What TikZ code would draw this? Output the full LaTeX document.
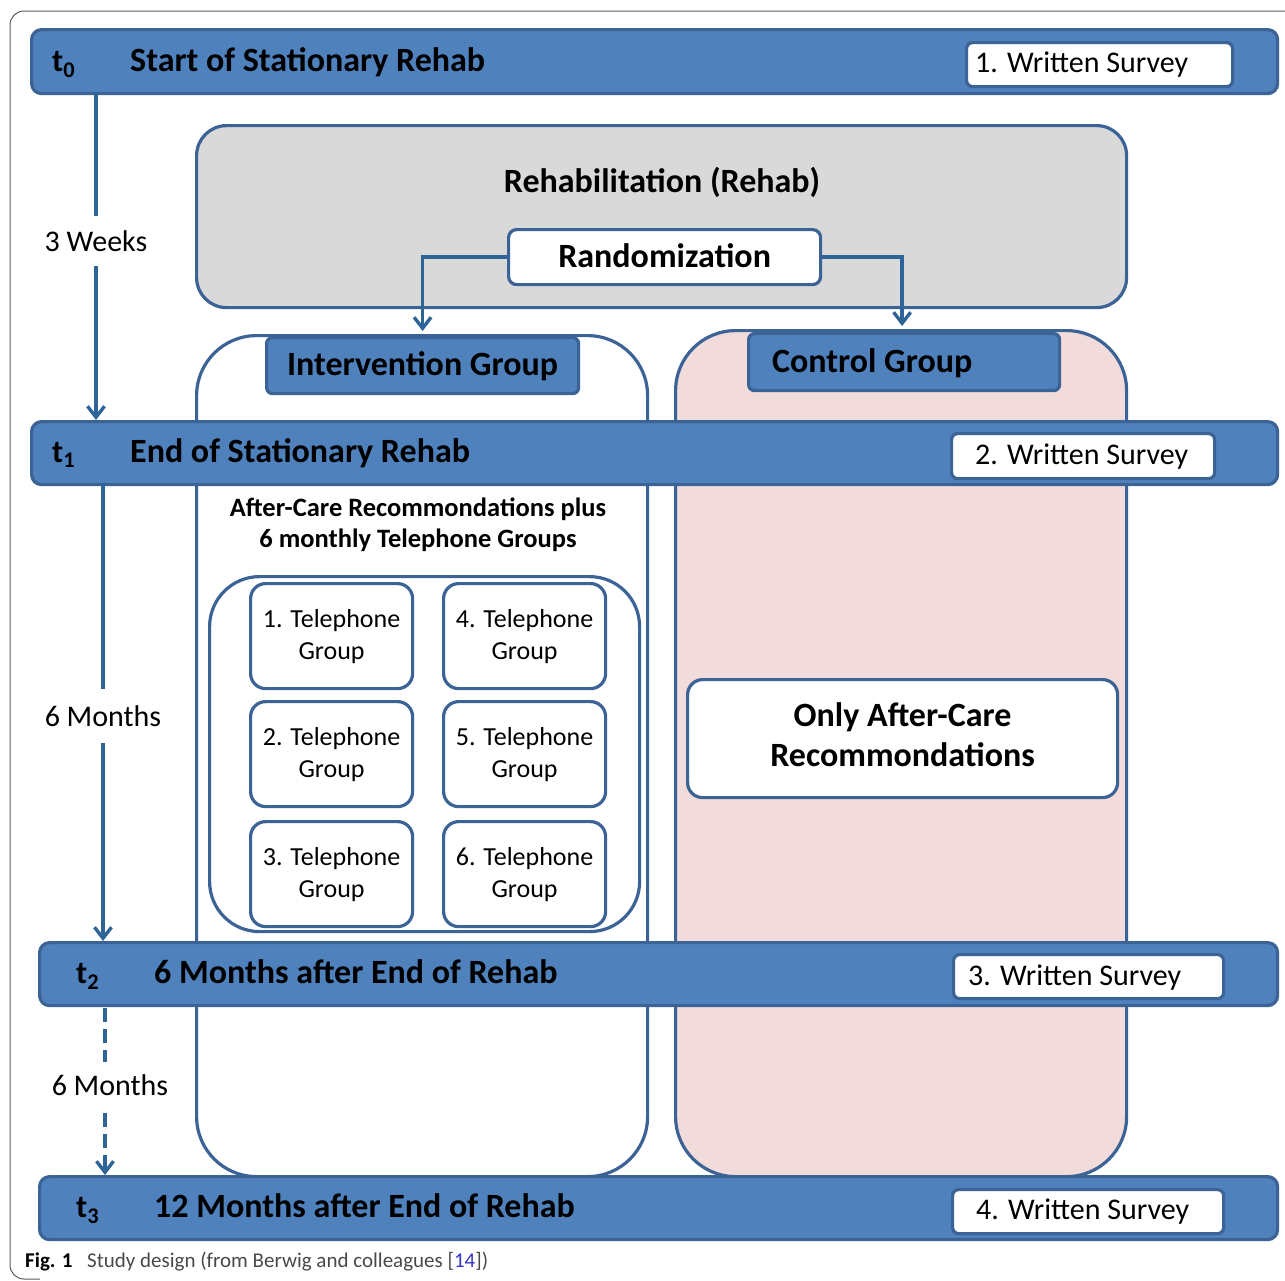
\documentclass[tikz,border=0pt]{standalone}
\usepackage{fontspec}
\setmainfont{Carlito}
\usetikzlibrary{arrows.meta}
\definecolor{barblue}{HTML}{4F81BD}
\definecolor{edgeblue}{HTML}{3B6396}
\definecolor{arrblue}{HTML}{2F6496}
\definecolor{rehabgray}{HTML}{D9D9D9}
\definecolor{ctrlpink}{HTML}{F2DCDB}
\definecolor{framegray}{HTML}{5A5A5A}
\definecolor{refblue}{HTML}{3333CC}
\tikzset{
  bar/.style={draw=edgeblue, line width=3.2pt, fill=barblue, rounded corners=10pt, anchor=north west, inner sep=0pt},
  survey/.style={draw=edgeblue, line width=3.2pt, fill=white, rounded corners=6pt, anchor=north west, inner sep=0pt},
  whitebox/.style={draw=edgeblue, line width=3.2pt, fill=white, anchor=north west, inner sep=0pt},
  column/.style={draw=edgeblue, line width=3.2pt, rounded corners=60pt, anchor=north west, inner sep=0pt},
  grouplabel/.style={draw=edgeblue, line width=3.2pt, fill=barblue, rounded corners=6pt, anchor=north west, inner sep=0pt},
  telbox/.style={draw=edgeblue, line width=3.2pt, fill=white, rounded corners=15pt, anchor=north west, inner sep=0pt, minimum width=162pt, minimum height=105pt, align=center, font=\fontsize{26}{32}\selectfont},
  bartitle/.style={anchor=base west, inner sep=0pt, font=\fontsize{34}{40}\selectfont\bfseries},
  tlabel/.style={anchor=base west, inner sep=0pt, font=\fontsize{32}{38}\selectfont\bfseries},
  surveytext/.style={anchor=base west, inner sep=0pt, font=\fontsize{30}{34}\selectfont},
  arr/.style={draw=arrblue, line width=3.4pt, -{Straight Barb[length=11pt,width=17pt,line width=3.4pt]}},
  timelabel/.style={fill=white, inner sep=2pt, font=\fontsize{30}{34}\selectfont},
  boldtext/.style={font=\fontsize{34}{40}\selectfont\bfseries, inner sep=0pt},
}
\begin{document}
\begin{tikzpicture}[x=1pt,y=-1pt]
\useasboundingbox (0,0) rectangle (1285,1280);
% outer frame
\draw[framegray, line width=1pt, rounded corners=14pt] (1290,11) -- (10,11) -- (10,1279) -- (40,1279);

% rehab box
\node[whitebox, fill=rehabgray, rounded corners=30pt, minimum width=930pt, minimum height=182pt] (rehab) at (195,124) {};
\node[boldtext] (rehabtitle) at (662,182) {Rehabilitation (Rehab)};
\node[whitebox, rounded corners=8pt, minimum width=312pt, minimum height=55pt] (rand) at (507,228) {};
\node[boldtext] (randtext) at ([yshift=1pt]rand.center) {Randomization};

% columns
\node[column, fill=white, minimum width=451pt, minimum height=841pt] (icol) at (195,334) {};
\node[column, fill=ctrlpink, minimum width=451pt, minimum height=846pt] (ccol) at (674,329) {};

% group labels
\node[grouplabel, minimum width=312pt, minimum height=56pt] (ig) at (265,336) {};
\node[boldtext] (igtext) at ([yshift=-1pt]ig.center) {Intervention Group};
\node[grouplabel, minimum width=311pt, minimum height=57pt] (cg) at (747,332) {};
\node[boldtext, anchor=west] (cgtext) at ([xshift=25pt,yshift=-1pt]cg.west) {Control Group};

% randomization arrows
\draw[arr] (rand.west) -| ([yshift=5pt]ig.north);
\draw[arr] (rand.east) -| ([xshift=-2pt,yshift=6pt]cg.north);

% intervention content
\node[font=\fontsize{26.5}{31}\selectfont\bfseries, align=center, inner sep=0pt] (actext) at (418,525) {After-Care Recommondations plus\\6 monthly Telephone Groups};
\node[whitebox, fill=none, rounded corners=50pt, minimum width=430pt, minimum height=355pt] (inner) at (208,575) {};
\node[telbox] (tg1) at (249,582) {1. Telephone\\Group};
\node[telbox] (tg2) at (249,700) {2. Telephone\\Group};
\node[telbox] (tg3) at (249,820) {3. Telephone\\Group};
\node[telbox] (tg4) at (442,582) {4. Telephone\\Group};
\node[telbox] (tg5) at (442,700) {5. Telephone\\Group};
\node[telbox] (tg6) at (442,820) {6. Telephone\\Group};

% control content
\node[whitebox, rounded corners=15pt, minimum width=430pt, minimum height=118pt] (only) at (686,678) {};
\node[font=\fontsize{34}{40}\selectfont\bfseries, align=center, inner sep=0pt] (onlytext) at ([yshift=4pt]only.center) {Only After-Care\\Recommondations};

% bars
\node[bar, minimum width=1246pt, minimum height=64pt] (b0) at (30,28) {};
\node[bar, minimum width=1246pt, minimum height=63pt] (b1) at (30,420) {};
\node[bar, minimum width=1238pt, minimum height=63pt] (b2) at (38,941) {};
\node[bar, minimum width=1238pt, minimum height=63pt] (b3) at (38,1175) {};

\node[tlabel] (t0) at (52,71) {t\textsubscript{0}};
\node[bartitle] (b0text) at (130,71) {Start of Stationary Rehab};
\node[tlabel] (t1) at (52,462) {t\textsubscript{1}};
\node[bartitle] (b1text) at (130,462) {End of Stationary Rehab};
\node[tlabel] (t2) at (76,983) {t\textsubscript{2}};
\node[bartitle] (b2text) at (154,983) {6 Months after End of Rehab};
\node[tlabel] (t3) at (76,1217) {t\textsubscript{3}};
\node[bartitle] (b3text) at (154,1217) {12 Months after End of Rehab};

% surveys
\node[survey, minimum width=266pt, minimum height=44pt] (s1) at (965,41) {};
\node[surveytext] (s1text) at (975,72) {1. Written Survey};
\node[survey, minimum width=263pt, minimum height=45pt] (s2) at (950,432) {};
\node[surveytext] (s2text) at (975,464) {2. Written Survey};
\node[survey, minimum width=270pt, minimum height=44pt] (s3) at (952,953) {};
\node[surveytext] (s3text) at (968,985) {3. Written Survey};
\node[survey, minimum width=271pt, minimum height=44pt] (s4) at (951,1188) {};
\node[surveytext] (s4text) at (976,1219) {4. Written Survey};

% timeline
\coordinate (a0s) at (96,92);
\coordinate (a0e) at (96,420);
\draw[arr] (a0s) -- (a0e);
\node[timelabel, inner ysep=14pt] (w3) at (96,241) {3 Weeks};
\coordinate (a1s) at (103,483);
\coordinate (a1e) at (103,941);
\draw[arr] (a1s) -- (a1e);
\node[timelabel, inner ysep=16pt] (m6a) at (103,716) {6 Months};
\coordinate (a2s) at (105,1008);
\coordinate (a2e) at (105,1175);
\draw[arr, dash pattern=on 14pt off 7pt] (a2s) -- (a2e);
\node[timelabel, inner ysep=12pt] (m6b) at (110,1085) {6 Months};

% caption
\node[anchor=base west, inner sep=0pt, font=\fontsize{21}{24}\selectfont\bfseries] (figlabel) at (25,1267) {Fig. 1};
\node[anchor=base west, inner sep=0pt, font=\fontsize{21}{24}\selectfont, text=framegray!80!black] (captext) at (87,1267) {Study design (from Berwig and colleagues [\textcolor{refblue}{14}])};
\end{tikzpicture}
\end{document}
